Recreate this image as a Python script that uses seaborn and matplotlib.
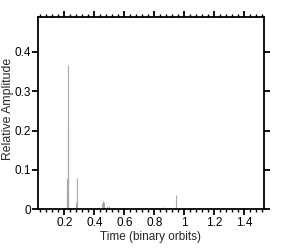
import matplotlib
matplotlib.use("Agg")
import matplotlib.pyplot as plt
from matplotlib.ticker import MultipleLocator
import seaborn as sns

# spike positions (binary orbits) and their relative amplitudes
times = [0.216, 0.220, 0.223, 0.227, 0.276, 0.287, 0.330, 0.387,
         0.453, 0.460, 0.466, 0.487, 0.500, 0.865, 0.945, 1.000]
amps = [0.054, 0.079, 0.218, 0.366, 0.019, 0.079, 0.002, 0.002,
        0.015, 0.022, 0.018, 0.009, 0.008, 0.007, 0.036, 0.002]

x_ticks = [0.2, 0.4, 0.6, 0.8, 1.0, 1.2, 1.4]
x_labels = ["0.2", "0.4", "0.6", "0.8", "1", "1.2", "1.4"]
y_ticks = [0, 0.1, 0.2, 0.3, 0.4]
y_labels = ["0", "0.1", "0.2", "0.3", "0.4"]

sns.set_style("ticks")
plt.rcParams["font.family"] = ["Liberation Sans", "DejaVu Sans"]

fig = plt.figure(figsize=(2.91, 2.49), dpi=100)
ax = fig.add_axes([0.1296, 0.159, 0.7774, 0.774])

ax.vlines(times, 0, amps, color="#a8a8a8", linewidth=0.8)

ax.set_xlim(0.022, 1.53)
ax.set_ylim(0, 0.489)
ax.set_xticks(x_ticks)
ax.set_xticklabels(x_labels)
ax.set_yticks(y_ticks)
ax.set_yticklabels(y_labels)
ax.xaxis.set_minor_locator(MultipleLocator(0.04))

for s in ax.spines.values():
    s.set_visible(True)
    s.set_linewidth(1.3)
    s.set_color("black")

ax.tick_params(axis="x", which="both", direction="out", top=True, bottom=True,
               labelsize=8.5, pad=1.5, colors="black")
ax.tick_params(axis="y", which="both", direction="out", left=True, right=True,
               labelsize=8.5, pad=1, colors="black")
ax.tick_params(which="major", length=4, width=1.3)
ax.tick_params(which="minor", length=2, width=1.0)

ax.set_xlabel("Time (binary orbits)", fontsize=8.5)
ax.set_ylabel("Relative Amplitude", fontsize=8.8)
ax.xaxis.set_label_coords(0.5, -0.145)
ax.yaxis.set_label_coords(-0.13, 0.52)
ax.xaxis.label.set_va("center")
ax.yaxis.label.set_va("center")

fig.savefig("out.png", dpi=100)
